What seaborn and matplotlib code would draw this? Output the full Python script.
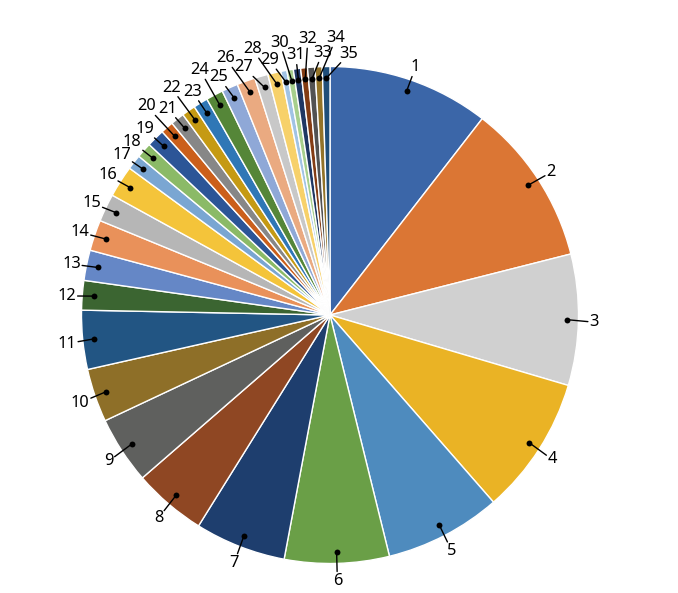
import numpy as np
import matplotlib
matplotlib.use('Agg')
from matplotlib import pyplot as plt
import seaborn as sns

# slice labels and their sizes (in degrees of the pie)
labels = [str(i) for i in range(1, 36)]
values = [37.8, 38.0, 30.7, 32.4, 27.3, 24.5, 21.3, 17.1, 15.8, 12.5,
          13.8, 6.9, 7.1, 7.2, 6.5, 7.4, 3.5, 3.6, 4.2, 3.0,
          3.2, 3.2, 3.4, 4.0, 3.8, 4.3, 3.1, 3.1, 1.4, 1.5,
          1.7, 1.6, 1.7, 1.7, 1.8]
colors = ['#3B66A8', '#DB7634', '#D0D0D0', '#EAB325', '#4E8BBE', '#6A9F47',
          '#1E3E6E', '#8F4723', '#5F605E', '#8E6F28', '#225583', '#3B6531',
          '#6587C6', '#E9915A', '#B6B6B6', '#F4C43A', '#7AA6D2', '#8BBA67',
          '#2C5597', '#CB5F1B', '#878787', '#C59A13', '#2F77B6', '#558638',
          '#8FA8D7', '#EAAA81', '#C8C8C8', '#F7D16A', '#A1C3E4', '#A7CF8D',
          '#1F3763', '#833C14', '#525252', '#937328', '#1F4E79']

W, H = 678, 593
cx, cy, R = 330, H - 315, 248.5


def spread_angles(ang, gap, n_iter=600):
    a = np.array(ang, dtype=float)
    for _ in range(n_iter):
        for j in range(len(a) - 1):
            d = a[j + 1] - a[j]
            if d < gap:
                s = (gap - d) / 2
                a[j] -= s
                a[j + 1] += s
    return a


sns.set_theme(style='white')
plt.rcParams['font.family'] = ['Noto Sans', 'DejaVu Sans']

fig = plt.figure(figsize=(W / 100, H / 100), dpi=100)
ax = fig.add_axes([0, 0, 1, 1])
ax.pie(values, colors=colors, startangle=90, counterclock=False,
       radius=R, center=(cx, cy),
       wedgeprops=dict(edgecolor='white', linewidth=1))

# mid angle of every slice, clockwise from 12 o'clock
vals = np.array(values)
cum = np.cumsum(vals) / vals.sum() * 360
mid = cum - vals / vals.sum() * 360 / 2
lab_ang = spread_angles(mid, 2.9)

dot_r = 0.953 * R
for i, lab in enumerate(labels):
    t = np.radians(mid[i])
    dx, dy = cx + dot_r * np.sin(t), cy + dot_r * np.cos(t)
    if i >= 19:
        lr = 279 if i % 2 == 1 else 264
    else:
        lr = 264
    tl = np.radians(lab_ang[i])
    tx, ty = cx + lr * np.sin(tl), cy + lr * np.cos(tl)
    ax.scatter([dx], [dy], s=18, color='black', zorder=5, linewidths=0)
    ax.annotate(lab, xy=(dx, dy), xytext=(tx, ty), ha='center',
                va='center_baseline', fontsize=11.8, color='black',
                bbox=dict(boxstyle='square,pad=0', fc='none', ec='none'),
                arrowprops=dict(arrowstyle='-', color='black', lw=1,
                                shrinkA=1, shrinkB=0))

ax.set_xlim(0, W)
ax.set_ylim(0, H)
ax.set_aspect('auto')
ax.axis('off')
fig.savefig('out.png', dpi=100)
